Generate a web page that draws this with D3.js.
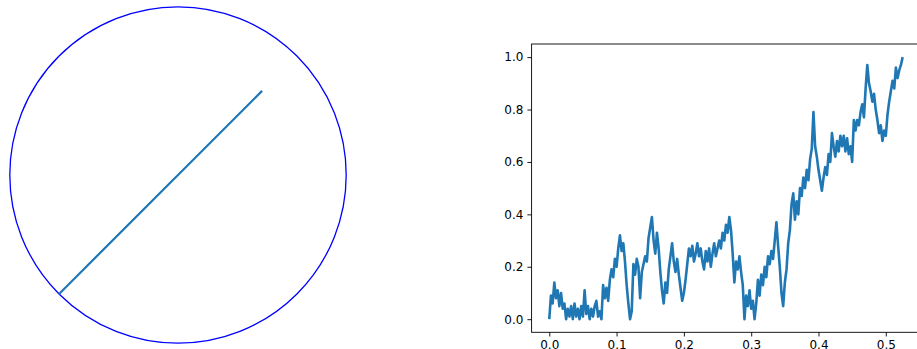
<!DOCTYPE html>
<html>
<head>
<meta charset="utf-8">
<script src="https://cdn.jsdelivr.net/npm/d3@7"></script>
<style>
  body { margin: 0; background: #fff; }
  svg { display: block; font-family: "DejaVu Sans", sans-serif; }
</style>
</head>
<body>
<div id="chart"></div>
<script>
// left panel: unit circle and a chord-like segment
const circleCenter = [0, 0];
const circleRadius = 1;
const segmentPoints = [[-0.7071, -0.7071], [0.5, 0.5]];

// right panel: random walk
const walkPoints = [
  [0.000,0.00],[0.0025,0.09],[0.005,0.06],[0.0075,0.14],[0.010,0.08],[0.0125,0.11],[0.015,0.05],[0.0175,0.10],
  [0.020,0.04],[0.0225,0.06],[0.025,0.00],[0.0275,0.04],[0.030,0.01],[0.0325,0.05],[0.035,0.00],[0.0375,0.06],
  [0.040,0.01],[0.0425,0.04],[0.045,0.00],[0.0475,0.05],[0.050,0.01],[0.0525,0.11],[0.055,0.02],[0.0575,0.05],
  [0.060,0.00],[0.0625,0.04],[0.065,0.01],[0.0675,0.05],[0.070,0.07],[0.0725,0.01],[0.075,0.03],[0.0775,0.00],
  [0.080,0.13],[0.0825,0.08],[0.085,0.12],[0.0875,0.07],[0.090,0.15],[0.0925,0.19],[0.095,0.16],[0.0975,0.23],
  [0.100,0.20],[0.1025,0.27],[0.105,0.32],[0.1075,0.26],[0.110,0.29],[0.1125,0.22],[0.115,0.13],[0.1175,0.06],
  [0.120,0.00],[0.1225,0.03],[0.125,0.21],[0.1275,0.17],[0.130,0.23],[0.1325,0.20],[0.135,0.08],[0.1375,0.18],
  [0.140,0.21],[0.1425,0.24],[0.145,0.22],[0.1475,0.31],[0.150,0.35],[0.1525,0.39],[0.155,0.30],[0.1575,0.25],
  [0.160,0.33],[0.1625,0.27],[0.165,0.18],[0.1675,0.11],[0.170,0.06],[0.1725,0.14],[0.175,0.10],[0.1775,0.19],
  [0.180,0.24],[0.1825,0.29],[0.185,0.22],[0.1875,0.18],[0.190,0.23],[0.1925,0.17],[0.195,0.12],[0.1975,0.07],
  [0.200,0.10],[0.2025,0.15],[0.205,0.21],[0.2075,0.27],[0.210,0.24],[0.2125,0.28],[0.215,0.22],[0.2175,0.25],
  [0.220,0.29],[0.2225,0.24],[0.225,0.27],[0.2275,0.22],[0.230,0.19],[0.2325,0.26],[0.235,0.22],[0.2375,0.27],
  [0.240,0.20],[0.2425,0.25],[0.245,0.29],[0.2475,0.24],[0.250,0.27],[0.2525,0.30],[0.255,0.27],[0.2575,0.33],
  [0.260,0.30],[0.2625,0.36],[0.265,0.33],[0.2675,0.39],[0.270,0.34],[0.2725,0.25],[0.275,0.14],[0.2775,0.22],
  [0.280,0.19],[0.2825,0.24],[0.285,0.18],[0.2875,0.13],[0.290,0.00],[0.2925,0.09],[0.295,0.05],[0.2975,0.11],
  [0.300,0.04],[0.3025,0.07],[0.305,0.00],[0.3075,0.06],[0.310,0.15],[0.3125,0.09],[0.315,0.17],[0.3175,0.13],
  [0.320,0.20],[0.3225,0.16],[0.325,0.24],[0.3275,0.21],[0.330,0.26],[0.3325,0.23],[0.335,0.30],[0.3375,0.37],
  [0.340,0.28],[0.3425,0.20],[0.345,0.10],[0.3475,0.05],[0.350,0.14],[0.3525,0.19],[0.355,0.29],[0.3575,0.34],
  [0.360,0.44],[0.3625,0.48],[0.365,0.38],[0.3675,0.45],[0.370,0.40],[0.3725,0.50],[0.375,0.47],[0.3775,0.54],
  [0.380,0.50],[0.3825,0.57],[0.385,0.53],[0.3875,0.61],[0.390,0.65],[0.3925,0.79],[0.395,0.66],[0.3975,0.62],
  [0.400,0.57],[0.4025,0.53],[0.405,0.49],[0.4075,0.54],[0.410,0.58],[0.4125,0.55],[0.415,0.63],[0.4175,0.60],
  [0.420,0.71],[0.4225,0.66],[0.425,0.62],[0.4275,0.68],[0.430,0.64],[0.4325,0.70],[0.435,0.66],[0.4375,0.70],
  [0.440,0.64],[0.4425,0.69],[0.445,0.63],[0.4475,0.66],[0.450,0.60],[0.4525,0.76],[0.455,0.72],[0.4575,0.76],
  [0.460,0.74],[0.4625,0.79],[0.465,0.82],[0.4675,0.77],[0.470,0.88],[0.4725,0.97],[0.475,0.90],[0.4775,0.87],
  [0.480,0.83],[0.4825,0.86],[0.485,0.80],[0.4875,0.76],[0.490,0.71],[0.4925,0.74],[0.495,0.68],[0.4975,0.72],
  [0.500,0.70],[0.5025,0.78],[0.505,0.83],[0.5075,0.87],[0.510,0.91],[0.5125,0.88],[0.515,0.96],[0.5175,0.92],
  [0.520,0.95],[0.5225,0.97],[0.525,1.00]
];
const xTicks = [0.0, 0.1, 0.2, 0.3, 0.4, 0.5];
const yTicks = [0.0, 0.2, 0.4, 0.6, 0.8, 1.0];

const width = 917, height = 349;
const blue = "#1f77b4";

const svg = d3.select("#chart").append("svg")
    .attr("width", width)
    .attr("height", height);

// ---- left panel ----
const cx = d3.scaleLinear().domain([-1, 1]).range([9.8, 346.2]);
const cy = d3.scaleLinear().domain([-1, 1]).range([343.2, 6.8]);

svg.append("circle")
    .attr("cx", cx(circleCenter[0]))
    .attr("cy", cy(circleCenter[1]))
    .attr("r", cx(circleRadius) - cx(0))
    .attr("fill", "none")
    .attr("stroke", "#0000ff")
    .attr("stroke-width", 1.3);

svg.append("path")
    .datum(segmentPoints)
    .attr("d", d3.line().x(d => cx(d[0])).y(d => cy(d[1])))
    .attr("fill", "none")
    .attr("stroke", blue)
    .attr("stroke-width", 2.2);

// ---- right panel ----
const axLeft = 531.6, axRight = 920.3, axTop = 44, axBottom = 332.3;
const x = d3.scaleLinear().domain([-0.02625, 0.55125]).range([axLeft, axRight]);
const y = d3.scaleLinear().domain([-0.05, 1.05]).range([axBottom, axTop]);

const fmt = d3.format(".1f");

const gx = svg.append("g")
    .attr("transform", `translate(0,${axBottom})`)
    .call(d3.axisBottom(x).tickValues(xTicks).tickFormat(fmt).tickSize(4.2).tickPadding(4));
const gy = svg.append("g")
    .attr("transform", `translate(${axLeft},0)`)
    .call(d3.axisLeft(y).tickValues(yTicks).tickFormat(fmt).tickSize(4.2).tickPadding(4));

[gx, gy].forEach(g => {
  g.select(".domain").remove();
  g.selectAll(".tick line").attr("stroke", "#000").attr("stroke-width", 0.9);
  g.selectAll(".tick text")
      .attr("fill", "#000")
      .style("font-family", "'DejaVu Sans', sans-serif")
      .style("font-size", "12px");
});

svg.append("path")
    .datum(walkPoints)
    .attr("d", d3.line().x(d => x(d[0])).y(d => y(d[1])))
    .attr("fill", "none")
    .attr("stroke", blue)
    .attr("stroke-width", 2.6)
    .attr("stroke-linejoin", "round");

svg.append("rect")
    .attr("x", axLeft)
    .attr("y", axTop)
    .attr("width", axRight - axLeft)
    .attr("height", axBottom - axTop)
    .attr("fill", "none")
    .attr("stroke", "#000")
    .attr("stroke-width", 0.9);
</script>
</body>
</html>
